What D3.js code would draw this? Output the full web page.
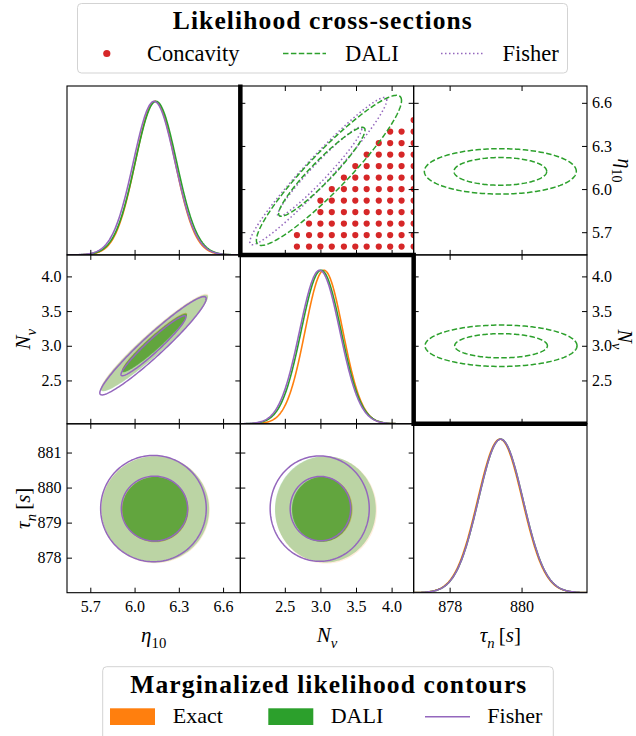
<!DOCTYPE html>
<html><head><meta charset="utf-8">
<script src="https://cdn.jsdelivr.net/npm/d3@7"></script>
<style>
body{margin:0;background:#fff;overflow:hidden}
svg{display:block}
text{font-family:"Liberation Serif","Times New Roman",serif}
</style>
</head><body>
<svg id="c" width="636" height="736"></svg>
<script>
// ---------------- data ----------------
const etaDomain = [5.542, 6.717];
const nuDomain  = [1.875, 4.31];
const tauDomain = [877.0, 881.82];
const etaTicks  = [5.7, 6.0, 6.3, 6.6];
const nuTicks   = [2.5, 3.0, 3.5, 4.0];
const tauTicksX = [878, 880];
const tauTicksY = [878, 879, 880, 881];
const levelRadii = [1.517, 2.486];           // inner (68%), outer (95%)

const methodNames  = ["Exact", "DALI", "Fisher"];
const methodColors = ["#ff7f0e", "#2ca02c", "#9467bd"];

// 1D marginals: [mean, sigma] for Exact, DALI, Fisher
const eta1D = [[6.140, 0.135], [6.145, 0.140], [6.133, 0.141]];
const nu1D  = [[3.050, 0.265], [3.010, 0.280], [2.990, 0.282]];
const tau1D = [[879.40, 0.62], [879.42, 0.62], [879.42, 0.62]];

// 2D marginal contours, per level [inner, outer]: [cx, cy, sx, sy, rho]
const etaNuExact  = [[6.135, 3.05, 0.146, 0.280, 0.955], [6.135, 3.05, 0.147, 0.282, 0.955]];
const etaNuDALI   = [[6.135, 3.04, 0.145, 0.278, 0.955], [6.135, 3.04, 0.146, 0.280, 0.955]];
const etaNuFisher = [[6.128, 3.00, 0.145, 0.285, 0.958], [6.125, 3.00, 0.145, 0.285, 0.958]];
const etaTauExact  = [[6.140, 879.37, 0.149, 0.615, 0], [6.140, 879.37, 0.149, 0.615, 0]];
const etaTauDALI   = [[6.140, 879.38, 0.147, 0.610, 0], [6.140, 879.38, 0.147, 0.610, 0]];
const etaTauFisher = [[6.135, 879.40, 0.148, 0.610, 0], [6.128, 879.40, 0.144, 0.610, 0]];
const nuTauExact  = [[3.03, 879.38, 0.278, 0.610, 0], [3.08, 879.36, 0.287, 0.615, 0]];
const nuTauDALI   = [[3.02, 879.38, 0.277, 0.610, 0], [3.07, 879.38, 0.285, 0.610, 0]];
const nuTauFisher = [[3.00, 879.40, 0.280, 0.605, 0], [2.99, 879.40, 0.280, 0.605, 0]];

// likelihood cross-sections (upper triangle)
const nuEtaDALIx   = [[3.02, 6.120, 0.400, 0.204, 0.94], [3.12, 6.130, 0.410, 0.210, 0.93]];
const nuEtaFisherx = [[2.99, 6.120, 0.390, 0.205, 0.965], [2.97, 6.125, 0.387, 0.206, 0.965]];
const tauEtaDALIx  = [[879.41, 6.123, 0.85, 0.0635, 0], [879.41, 6.123, 0.85, 0.0635, 0]];
const tauNuDALIx   = [[879.43, 3.00, 0.85, 0.115, 0], [879.43, 3.00, 0.85, 0.120, 0]];

// concavity grid
const concavityNu  = [2.51, 2.67, 2.84, 3.00, 3.16, 3.33, 3.49, 3.65, 3.82, 3.98, 4.14, 4.31];
const concavityEta = [6.48, 6.40, 6.32, 6.24, 6.16, 6.08, 6.00, 5.92, 5.84, 5.76, 5.68, 5.60, 5.52];
const concavityStart = [11, 9, 8, 7, 6, 5, 4, 3, 3, 2, 1, 1, 0];

// ---------------- layout ----------------
const X0 = 67, Y0 = 86, PW = (587 - 67) / 3, PH = (592.7 - 86) / 3;
const svg = d3.select("#c");
const dom = {eta: etaDomain, nu: nuDomain, tau: tauDomain};
const xs = p => d3.scaleLinear().domain(dom[p]).range([0, PW]);
const ys = p => d3.scaleLinear().domain(dom[p]).range([PH, 0]);
const fmt1 = d3.format(".1f"), fmtD = d3.format("d");
const SERIF = '"Liberation Serif","Times New Roman",serif';

let clipN = 0;
function makePanel(col, row) {
  const g = svg.append("g").attr("transform", `translate(${X0 + col * PW},${Y0 + row * PH})`);
  const id = "clip" + (clipN++);
  g.append("clipPath").attr("id", id).append("rect").attr("width", PW).attr("height", PH);
  const inner = g.append("g").attr("clip-path", `url(#${id})`);
  return {g, inner};
}
function addTicks(g, side, scale, values, labeled, fmt) {
  let ax;
  if (side === "bottom") ax = d3.axisBottom(scale);
  else if (side === "top") ax = d3.axisTop(scale);
  else if (side === "left") ax = d3.axisLeft(scale);
  else ax = d3.axisRight(scale);
  const pad = side === "bottom" ? 8 : side === "left" ? 5.5 : 5;
  ax.tickValues(values).tickSize(-5).tickPadding(pad).tickFormat(labeled ? fmt : () => "");
  const a = g.append("g");
  if (side === "bottom") a.attr("transform", `translate(0,${PH})`);
  if (side === "right") a.attr("transform", `translate(${PW},0)`);
  a.call(ax);
  a.attr("font-family", SERIF).attr("font-size", 16);
  a.select(".domain").remove();
  a.selectAll("line").attr("stroke", "#000").attr("stroke-width", 1);
  a.selectAll("text").attr("fill", "#000");
}
function border(g) {
  g.append("rect").attr("width", PW).attr("height", PH)
    .attr("fill", "none").attr("stroke", "#000").attr("stroke-width", 1.1);
}
function ellipsePts(p, k) {
  const [cx, cy, sx, sy, rho] = p;
  const s = Math.sqrt(1 - rho * rho);
  return d3.range(0, 360, 2).map(a => {
    const t = a * Math.PI / 180;
    return [cx + k * sx * Math.cos(t), cy + k * sy * (rho * Math.cos(t) + s * Math.sin(t))];
  });
}
function ellipsePath(x, y, p, k) {
  return d3.line().x(d => x(d[0])).y(d => y(d[1])).curve(d3.curveLinearClosed)(ellipsePts(p, k));
}
function drawFilled(sel, x, y, levels, color, opOuter, opInner) {
  sel.append("path").attr("d", ellipsePath(x, y, levels[1], levelRadii[1]))
    .attr("fill", color).attr("fill-opacity", opOuter);
  sel.append("path").attr("d", ellipsePath(x, y, levels[0], levelRadii[0]))
    .attr("fill", color).attr("fill-opacity", opInner);
}
function drawLines(sel, x, y, levels, color, dash, w) {
  levels.forEach((lv, i) => {
    sel.append("path").attr("d", ellipsePath(x, y, lv, levelRadii[i]))
      .attr("fill", "none").attr("stroke", color).attr("stroke-width", w || 1.5)
      .attr("stroke-dasharray", dash || null);
  });
}
function draw1D(sel, p, params) {
  const x = xs(p), y = d3.scaleLinear().domain([0, 1.1]).range([PH, 0]);
  const grid = d3.range(0, 301).map(i => dom[p][0] + (dom[p][1] - dom[p][0]) * i / 300);
  params.forEach((mp, i) => {
    const [mu, sg] = mp;
    sel.append("path")
      .attr("d", d3.line().x(v => x(v)).y(v => y(Math.exp(-0.5 * ((v - mu) / sg) ** 2)))(grid))
      .attr("fill", "none").attr("stroke", methodColors[i]).attr("stroke-width", 1.6);
  });
}

const DASH = "5.5,2.4", DOT = "1.5,2.5";

// ---- row 0 ----
{ // eta 1D
  const {g, inner} = makePanel(0, 0);
  draw1D(inner, "eta", eta1D);
  addTicks(g, "bottom", xs("eta"), etaTicks, false);
  border(g);
}
{ // Nu (x) vs eta (y) cross-section
  const {g, inner} = makePanel(1, 0);
  const x = xs("nu"), y = ys("eta");
  const pts = [];
  concavityEta.forEach((e, r) => {
    for (let c = concavityStart[r]; c < concavityNu.length; c++) pts.push([concavityNu[c], e]);
  });
  inner.selectAll("circle.cv").data(pts).join("circle")
    .attr("cx", d => x(d[0])).attr("cy", d => y(d[1])).attr("r", 3.1).attr("fill", "#d62728");
  drawLines(inner, x, y, nuEtaFisherx, "#9467bd", DOT, 1.5);
  drawLines(inner, x, y, nuEtaDALIx, "#2ca02c", DASH, 1.5);
  addTicks(g, "top", x, nuTicks, false);
  addTicks(g, "bottom", x, nuTicks, false);
  addTicks(g, "left", y, etaTicks, false);
  addTicks(g, "right", y, etaTicks, false);
  border(g);
}
{ // tau (x) vs eta (y) cross-section
  const {g, inner} = makePanel(2, 0);
  const x = xs("tau"), y = ys("eta");
  drawLines(inner, x, y, tauEtaDALIx, "#2ca02c", DASH, 1.5);
  addTicks(g, "top", x, tauTicksX, false);
  addTicks(g, "bottom", x, tauTicksX, false);
  addTicks(g, "left", y, etaTicks, false);
  addTicks(g, "right", y, etaTicks, true, fmt1);
  border(g);
}
// ---- row 1 ----
{ // eta vs Nu marginal
  const {g, inner} = makePanel(0, 1);
  const x = xs("eta"), y = ys("nu");
  drawFilled(inner, x, y, etaNuExact, "#ff7f0e", 0.14, 0.5);
  drawFilled(inner, x, y, etaNuDALI, "#2ca02c", 0.32, 0.62);
  drawLines(inner, x, y, etaNuFisher, "#9467bd", null, 1.5);
  addTicks(g, "top", x, etaTicks, false);
  addTicks(g, "bottom", x, etaTicks, false);
  addTicks(g, "left", y, nuTicks, true, fmt1);
  addTicks(g, "right", y, nuTicks, false);
  border(g);
}
{ // Nu 1D
  const {g, inner} = makePanel(1, 1);
  draw1D(inner, "nu", nu1D);
  addTicks(g, "bottom", xs("nu"), nuTicks, false);
  border(g);
}
{ // tau (x) vs Nu (y) cross-section
  const {g, inner} = makePanel(2, 1);
  const x = xs("tau"), y = ys("nu");
  drawLines(inner, x, y, tauNuDALIx, "#2ca02c", DASH, 1.5);
  addTicks(g, "top", x, tauTicksX, false);
  addTicks(g, "bottom", x, tauTicksX, false);
  addTicks(g, "left", y, nuTicks, false);
  addTicks(g, "right", y, nuTicks, true, fmt1);
  border(g);
}
// ---- row 2 ----
{ // eta vs tau
  const {g, inner} = makePanel(0, 2);
  const x = xs("eta"), y = ys("tau");
  drawFilled(inner, x, y, etaTauExact, "#ff7f0e", 0.14, 0.5);
  drawFilled(inner, x, y, etaTauDALI, "#2ca02c", 0.32, 0.62);
  drawLines(inner, x, y, etaTauFisher, "#9467bd", null, 1.5);
  addTicks(g, "top", x, etaTicks, false);
  addTicks(g, "bottom", x, etaTicks, true, fmt1);
  addTicks(g, "left", y, tauTicksY, true, fmtD);
  addTicks(g, "right", y, tauTicksY, false);
  border(g);
}
{ // Nu vs tau
  const {g, inner} = makePanel(1, 2);
  const x = xs("nu"), y = ys("tau");
  drawFilled(inner, x, y, nuTauExact, "#ff7f0e", 0.14, 0.5);
  drawFilled(inner, x, y, nuTauDALI, "#2ca02c", 0.32, 0.62);
  drawLines(inner, x, y, nuTauFisher, "#9467bd", null, 1.5);
  addTicks(g, "top", x, nuTicks, false);
  addTicks(g, "bottom", x, nuTicks, true, fmt1);
  addTicks(g, "left", y, tauTicksY, false);
  addTicks(g, "right", y, tauTicksY, false);
  border(g);
}
{ // tau 1D
  const {g, inner} = makePanel(2, 2);
  draw1D(inner, "tau", tau1D);
  addTicks(g, "bottom", xs("tau"), tauTicksX, true, fmtD);
  border(g);
}

// thick separator between lower and upper triangles
svg.append("path")
  .attr("d", `M${X0 + PW},${Y0 - 1.5} V${Y0 + PH} H${X0 + 2 * PW} V${Y0 + 2 * PH} H${X0 + 3 * PW}`)
  .attr("fill", "none").attr("stroke", "#000").attr("stroke-width", 4.5)
  .attr("stroke-linejoin", "miter");

// ---------------- axis labels ----------------
const etaLabel = [["η", "i"], ["10", "sr"]];
const nuLabel  = [["N", "i"], ["ν", "si"]];
const tauLabel = [["τ", "i"], ["n", "si"], ["\u2009[", "r"], ["s", "i"], ["]", "r"]];

function mathText(parent, parts, size) {
  const t = parent.append("text").attr("font-size", size).attr("text-anchor", "middle").attr("fill", "#000");
  let shifted = false;
  parts.forEach(([s, st]) => {
    const sp = t.append("tspan").text(s);
    const sub = st[0] === "s";
    if (sub && !shifted) { sp.attr("dy", size * 0.28); shifted = true; }
    if (!sub && shifted) { sp.attr("dy", -size * 0.28); shifted = false; }
    if (sub) sp.attr("font-size", size * 0.7);
    if (st.endsWith("i")) sp.attr("font-style", "italic");
  });
  return t;
}
const labels = [etaLabel, nuLabel, tauLabel];
labels.forEach((lab, i) => {
  const g = svg.append("g").attr("transform", `translate(${X0 + (i + 0.5) * PW},642)`);
  mathText(g, lab, 21);
});
[[nuLabel, 1], [tauLabel, 2]].forEach(([lab, r]) => {
  const g = svg.append("g").attr("transform", `translate(30,${Y0 + (r + 0.5) * PH}) rotate(-90)`);
  mathText(g, lab, 21);
});
[[etaLabel, 0, 618], [nuLabel, 1, 618]].forEach(([lab, r, bx]) => {
  const g = svg.append("g").attr("transform", `translate(${bx},${Y0 + (r + 0.5) * PH}) rotate(90)`);
  mathText(g, lab, 20);
});

// ---------------- legends ----------------
{
  const L = svg.append("g");
  L.append("rect").attr("x", 77.5).attr("y", 3.5).attr("width", 490).attr("height", 69.5).attr("rx", 4)
    .attr("fill", "#fff").attr("stroke", "#d3d3d3").attr("stroke-width", 1);
  L.append("text").attr("x", 322.3).attr("y", 29).attr("text-anchor", "middle")
    .attr("font-size", 25.5).attr("font-weight", "bold").attr("textLength", 299).attr("lengthAdjust", "spacing")
    .text("Likelihood cross-sections");
  L.append("circle").attr("cx", 106.8).attr("cy", 53.5).attr("r", 3.6).attr("fill", "#d62728");
  L.append("text").attr("x", 147).attr("y", 61).attr("font-size", 22.5).text("Concavity");
  L.append("line").attr("x1", 283).attr("x2", 326).attr("y1", 53.5).attr("y2", 53.5)
    .attr("stroke", "#2ca02c").attr("stroke-width", 1.5).attr("stroke-dasharray", DASH);
  L.append("text").attr("x", 345).attr("y", 61).attr("font-size", 22.5).text("DALI");
  L.append("line").attr("x1", 441).attr("x2", 483).attr("y1", 53.5).attr("y2", 53.5)
    .attr("stroke", "#9467bd").attr("stroke-width", 1.5).attr("stroke-dasharray", DOT);
  L.append("text").attr("x", 502.5).attr("y", 61).attr("font-size", 22.5).text("Fisher");
}
{
  const L = svg.append("g");
  L.append("rect").attr("x", 102.7).attr("y", 666.7).attr("width", 450.6).attr("height", 80).attr("rx", 4)
    .attr("fill", "#fff").attr("stroke", "#d3d3d3").attr("stroke-width", 1);
  L.append("text").attr("x", 328.3).attr("y", 693.3).attr("text-anchor", "middle")
    .attr("font-size", 25.5).attr("font-weight", "bold").attr("textLength", 396).attr("lengthAdjust", "spacing")
    .text("Marginalized likelihood contours");
  L.append("rect").attr("x", 110).attr("y", 708.3).attr("width", 45).attr("height", 16.7).attr("fill", methodColors[0]);
  L.append("text").attr("x", 172.7).attr("y", 723.3).attr("font-size", 22).text(methodNames[0]);
  L.append("rect").attr("x", 268.3).attr("y", 708.3).attr("width", 45).attr("height", 16.7).attr("fill", methodColors[1]);
  L.append("text").attr("x", 330.7).attr("y", 723.3).attr("font-size", 22).text(methodNames[1]);
  L.append("line").attr("x1", 425).attr("x2", 470).attr("y1", 716.7).attr("y2", 716.7)
    .attr("stroke", methodColors[2]).attr("stroke-width", 1.5);
  L.append("text").attr("x", 487.3).attr("y", 723.3).attr("font-size", 22).text(methodNames[2]);
}
</script>
</body></html>
